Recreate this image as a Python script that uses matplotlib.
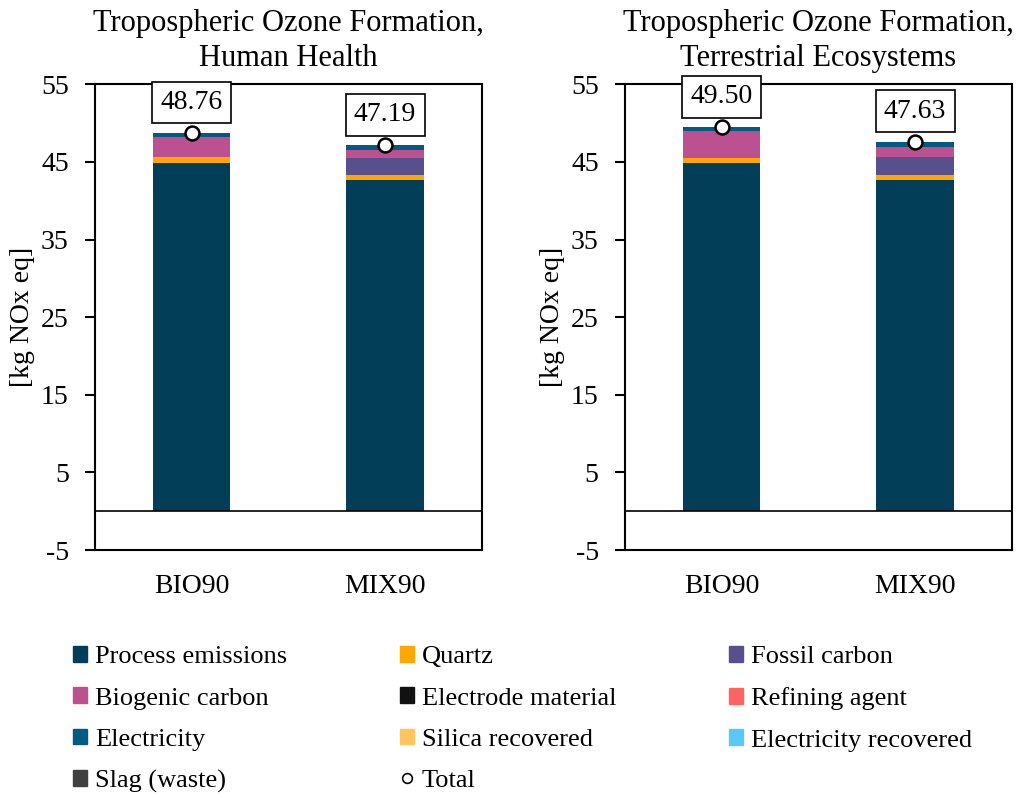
import matplotlib.pyplot as plt
import numpy as np
from matplotlib.patches import Patch
from matplotlib.lines import Line2D

plt.rcParams['font.family'] = ['Liberation Serif', 'DejaVu Serif']
plt.rcParams['axes.unicode_minus'] = False

# Data
scenarios = ["BIO90", "MIX90"]
titles = ["Tropospheric Ozone Formation,\nHuman Health",
          "Tropospheric Ozone Formation,\nTerrestrial Ecosystems"]

categories = ["Process emissions", "Quartz", "Fossil carbon", "Biogenic carbon",
              "Electrode material", "Refining agent", "Electricity",
              "Silica recovered", "Electricity recovered", "Slag (waste)"]
colors = ["#023e58", "#ffa600", "#58508d", "#bc5090", "#111111", "#ff6361",
          "#035a80", "#ffc65d", "#5ac8fa", "#404040"]

# values per panel: rows = categories, columns = scenarios
health = [[44.90, 42.70],  # Process emissions
          [0.70, 0.65],    # Quartz
          [0.00, 2.20],    # Fossil carbon
          [2.60, 1.00],    # Biogenic carbon
          [0.00, 0.00],    # Electrode material
          [0.00, 0.00],    # Refining agent
          [0.56, 0.64],    # Electricity
          [0.00, 0.00],    # Silica recovered
          [0.00, 0.00],    # Electricity recovered
          [0.00, 0.00]]    # Slag (waste)
terrestrial = [[44.85, 42.66],
               [0.69, 0.64],
               [0.00, 2.36],
               [3.40, 1.33],
               [0.00, 0.00],
               [0.00, 0.00],
               [0.56, 0.64],
               [0.00, 0.00],
               [0.00, 0.00],
               [0.00, 0.00]]
totals_health = [48.76, 47.19]
totals_terrestrial = [49.50, 47.63]

panels = [(health, totals_health), (terrestrial, totals_terrestrial)]

fig = plt.figure(figsize=(10.23, 7.96), dpi=100)
axes = [fig.add_axes([0.093, 0.309, 0.378, 0.585]),
        fig.add_axes([0.611, 0.309, 0.378, 0.585])]

x = np.arange(len(scenarios))
for ax, title, (vals, totals) in zip(axes, titles, panels):
    pos_base = np.zeros(len(scenarios))
    neg_base = np.zeros(len(scenarios))
    for cat, col, row in zip(categories, colors, vals):
        row = np.array(row)
        base = np.where(row >= 0, pos_base, neg_base)
        ax.bar(x, row, 0.4, bottom=base, color=col, label=cat)
        pos_base += np.where(row >= 0, row, 0)
        neg_base += np.where(row < 0, row, 0)
    ax.plot(x, totals, 'o', ms=10, mfc='white', mec='black', mew=1.8, zorder=5)
    for xi, t in zip(x, totals):
        ax.text(xi, t + 3.9, f"{t:.2f}", ha='center', va='center', fontsize=20,
                bbox=dict(boxstyle='square,pad=0.3', fc='white', ec='black', lw=1.2))
    ax.axhline(0, color='black', lw=1.2)
    ax.set_xlim(-0.5, 1.5)
    ax.set_ylim(-5, 55)
    ax.set_yticks(np.arange(-5, 56, 10))
    ax.set_xticks(x)
    ax.set_xticklabels(scenarios)
    ax.tick_params(axis='x', length=0, pad=17, labelsize=20)
    ax.tick_params(axis='y', length=7, width=1.5, labelsize=20, pad=12)
    for s in ax.spines.values():
        s.set_linewidth(1.5)
    ax.set_ylabel("[kg NOx eq]", fontsize=20, labelpad=4)
    ax.set_title(title, fontsize=22, pad=13, linespacing=1.3)

handles = [Patch(color=c, label=l) for l, c in zip(categories, colors)]
handles.append(Line2D([], [], marker='o', ls='', mfc='white', mec='black',
                      mew=1.2, ms=7, label='Total'))
# reorder so that legend reads row by row
order = [0, 3, 6, 9, 1, 4, 7, 10, 2, 5, 8]
handles = [handles[i] for i in order]
fig.legend(handles=handles, loc='lower left', bbox_to_anchor=(0.048, -0.026),
           ncol=3, frameon=False, fontsize=19, handlelength=0.55, handleheight=0.55,
           handletextpad=0.3, columnspacing=4.25, labelspacing=0.72)

fig.savefig("out.png", dpi=100)
